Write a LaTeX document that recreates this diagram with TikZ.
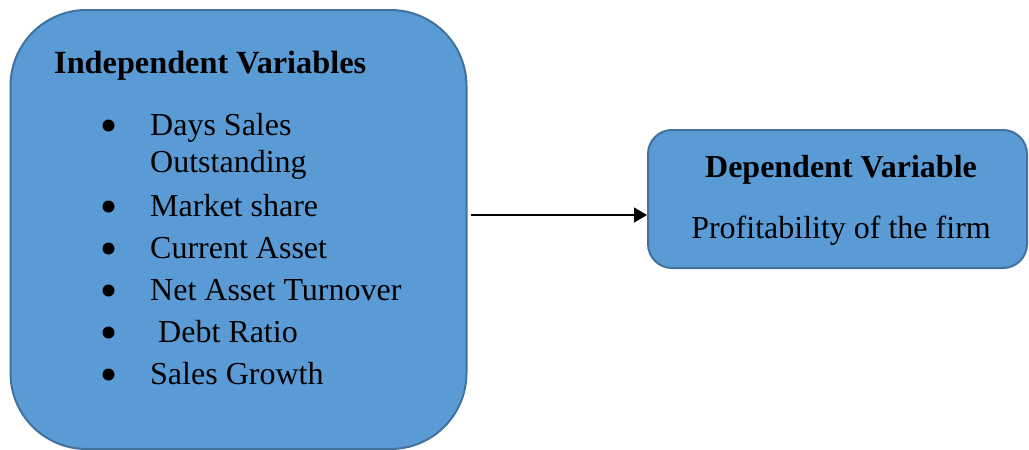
\documentclass[tikz,border=0pt]{standalone}
\usepackage{fontspec}
\setmainfont{Liberation Serif}
\usetikzlibrary{arrows.meta}
\definecolor{boxfill}{HTML}{5B9BD5}
\definecolor{boxline}{HTML}{41719C}
\tikzset{
  box/.style={draw=boxline, fill=boxfill, line width=2pt, inner sep=0pt},
  txt/.style={anchor=base west, inner sep=0pt, font=\fontsize{32}{38}\selectfont},
  ctxt/.style={anchor=base, inner sep=0pt, font=\fontsize{32}{38}\selectfont},
  bul/.style={fill=black},
  conn/.style={line width=1.3pt, -{Triangle[length=13pt,width=15pt]}}
}
\begin{document}
\begin{tikzpicture}[x=1pt,y=-1pt]
\useasboundingbox (0,0) rectangle (1029,450);
% boxes
\node[box, rounded corners=76pt, minimum width=456pt, minimum height=439pt] (lbox) at (238.5,229.5) {};
\node[box, rounded corners=24pt, minimum width=379pt, minimum height=138pt] (rbox) at (837.5,199) {};
% left texts
\node[txt, font=\fontsize{32.3}{38}\selectfont\bfseries] (ttl) at (54,73) {Independent Variables};
\node[txt] (i1a) at (150,135) {Days Sales};
\node[txt] (i1b) at (150,172) {Outstanding};
\node[txt] (i2) at (150,216) {Market share};
\node[txt] (i3) at (150,258) {Current Asset};
\node[txt] (i4) at (150,300) {Net Asset Turnover};
\node[txt] (i5) at (150,342) {\ Debt Ratio};
\node[txt] (i6) at (150,384) {Sales Growth};
\foreach \y in {135,216,258,300,342,384} \fill[bul] (108.5,\y-9.5) circle (6);
% right texts
\node[ctxt, font=\fontsize{32}{38}\selectfont\bfseries] (dtl) at (841,177) {Dependent Variable};
\node[ctxt] (dv) at (841,238) {Profitability of the firm};
% connector
\coordinate (a) at (471,215);
\draw[conn] (a) -- (a -| rbox.west);
\end{tikzpicture}
\end{document}
